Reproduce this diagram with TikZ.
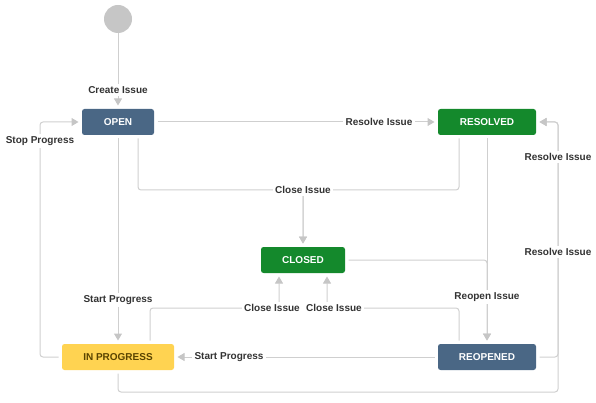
\documentclass[tikz,border=0pt]{standalone}
\usepackage{fontspec}
\setmainfont{Liberation Sans}
\usetikzlibrary{arrows.meta}
\definecolor{jblue}{HTML}{4A6785}
\definecolor{jgreen}{HTML}{14892C}
\definecolor{jyellow}{HTML}{FFD351}
\definecolor{jbrown}{HTML}{594300}
\definecolor{lgray}{HTML}{CFCFCF}
\definecolor{agray}{HTML}{C6C6C6}
\definecolor{tgray}{HTML}{333333}
\tikzset{
  statebox/.style={rectangle, rounded corners=2.5pt, minimum height=26pt, inner sep=0pt,
     font=\fontsize{10}{12}\selectfont\bfseries, text=white, outer sep=3.5pt},
  conn/.style={draw=lgray, line width=1pt, rounded corners=3pt,
     -{Triangle[length=7pt,width=8pt,fill=agray,color=agray]}},
  plain/.style={draw=lgray, line width=1pt, rounded corners=3pt},
  lbl/.style={fill=white, inner sep=2.5pt, text=tgray, font=\fontsize{10}{12}\selectfont\bfseries}
}
\begin{document}
\begin{tikzpicture}[x=1pt,y=-1pt]
\useasboundingbox (0,0) rectangle (596,403);
% states
\node[circle, fill=agray, minimum size=28pt, inner sep=0pt] (start) at (118,19) {};
\node[statebox, fill=jblue, minimum width=72pt] (open) at (118,122) {OPEN};
\node[statebox, fill=jgreen, minimum width=98pt] (resolved) at (487,122) {RESOLVED};
\node[statebox, fill=jgreen, minimum width=84pt] (closed) at (303,260) {CLOSED};
\node[statebox, fill=jyellow, text=jbrown, minimum width=112pt] (inprog) at (118,357) {IN PROGRESS};
\node[statebox, fill=jblue, minimum width=98pt] (reopened) at (487,357) {REOPENED};
% bend points
\coordinate (c1) at (303,190);
\coordinate (c2) at (40,122);
\coordinate (c4) at (279,308);
\coordinate (c5) at (327,308);
\coordinate (c6) at (558,122);
\coordinate (c7) at (558,392);
% connectors
\draw[conn] (start) -- (open);
\draw[conn] (open) -- (resolved);
\draw[conn] ([xshift=20pt]open.south) |- (c1) -- (closed);
\draw[conn] ([xshift=-28pt]resolved.south) |- (c1) -- (closed);
\draw[conn] (open) -- (inprog);
\draw[conn] (inprog.west) -| (c2) -- (open.west);
\draw[conn] (resolved) -- (reopened);
\draw[conn] (closed.east) -| (reopened.north);
\draw[conn] (reopened) -- (inprog);
\draw[conn] ([xshift=32pt]inprog.north) |- (c4) -- (c4 |- closed.south);
\draw[conn] ([xshift=-28pt]reopened.north) |- (c5) -- (c5 |- closed.south);
\draw[conn] (reopened.east) -| (c6) -- (resolved.east);
\draw[conn] (inprog.south) |- (c7) -- (c6) -- (resolved.east);
% labels
\node[lbl] (l1) at (118,90) {Create Issue};
\node[lbl] (l2) at (379,122) {Resolve Issue};
\node[lbl] (l3) at (303,190) {Close Issue};
\node[lbl] (l4) at (118,300) {Start Progress};
\node[lbl] (l5) at (40,141) {Stop Progress};
\node[lbl] (l6) at (487,297) {Reopen Issue};
\node[lbl] (l7) at (229,357) {Start Progress};
\node[lbl] (l8) at (272,308) {Close Issue};
\node[lbl] (l9) at (334,308) {Close Issue};
\node[lbl] (l10) at (558,157) {Resolve Issue};
\node[lbl] (l11) at (558,252) {Resolve Issue};
\end{tikzpicture}
\end{document}
